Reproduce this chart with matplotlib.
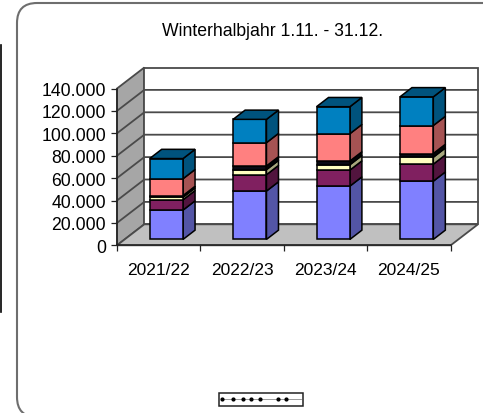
import matplotlib
matplotlib.use("Agg")
import matplotlib.pyplot as plt
from matplotlib.patches import Polygon, FancyBboxPatch, Rectangle
from matplotlib.lines import Line2D

plt.rcParams['font.family'] = ['Liberation Sans', 'DejaVu Sans']

title = "Winterhalbjahr 1.11. - 31.12."
categories = ["2021/22", "2022/23", "2023/24", "2024/25"]
series_a = [26200, 43200, 47600, 52000]
series_b = [9200, 14600, 14300, 15200]
series_c = [2300, 4500, 4800, 6200]
series_d = [1500, 3300, 3300, 3300]
series_e = [15000, 20800, 24400, 25000]
series_f = [18000, 20800, 24100, 25600]
colors = ["#8080ff", "#802060", "#ffffc0", "#0a0a14", "#ff8080", "#0080c0"]
side_colors = ["#5355a6", "#52143e", "#a8a87e", "#050508", "#a65353", "#00537d"]
y_ticks = [0, 20000, 40000, 60000, 80000, 100000, 120000, 140000]
y_labels = ["0", "20.000", "40.000", "60.000", "80.000", "100.000", "120.000", "140.000"]

W, H = 483, 414
fig = plt.figure(figsize=(W / 100, H / 100), dpi=100)
fig.patch.set_facecolor("white")

# pixel overlay for the frame and legend
bg = fig.add_axes([0, 0, 1, 1], zorder=0)
bg.set_xlim(0, W)
bg.set_ylim(H, 0)
bg.axis("off")
bg.add_patch(FancyBboxPatch((17, 4), 560, 414, boxstyle="round,pad=0,rounding_size=20",
                            fc="white", ec="#6e6e6e", lw=1.5))
bg.add_line(Line2D([0.5, 0.5], [46, 313], color="black", lw=1.2))

# main axes: the front plane of the oblique 3D box
L, R, T, B = 117.0, 450.7, 89.5, 246.3
ax = fig.add_axes([L / W, 1 - B / H, (R - L) / W, (B - T) / H], zorder=1)
ax.patch.set_alpha(0)
ax.set_xlim(0, 4)
ax.set_ylim(0, 140000)
px_x = (R - L) / 4
px_y = (B - T) / 140000
DX = 27.3 / px_x
DY = 21.0 / px_y
GRID = "#4a4a4a"

def P(x, y, d):
    return (x + d * DX, y + d * DY)

def poly(points, fc, ec="black", lw=1.1, z=2):
    ax.add_patch(Polygon(points, closed=True, fc=fc, ec=ec, lw=lw, zorder=z,
                         clip_on=False, joinstyle="miter"))

top = y_ticks[-1]
poly([P(0, 0, 0), P(0, top, 0), P(0, top, 1), P(0, 0, 1)], "#a6a6a6", GRID, 1.3, 1)
poly([P(0, 0, 1), P(0, top, 1), P(4, top, 1), P(4, 0, 1)], "white", GRID, 1.3, 1)
poly([P(0, 0, 0), P(4, 0, 0), P(4, 0, 1), P(0, 0, 1)], "#c0c0c0", GRID, 1.3, 1)
for t in y_ticks[1:-1]:
    xs, ys = zip(P(0, t, 0), P(0, t, 1), P(4, t, 1))
    ax.plot(xs, ys, color=GRID, lw=1.3, zorder=1.5, clip_on=False)

series = [series_a, series_b, series_c, series_d, series_e, series_f]
d0, d1 = 0.28, 0.72
half = 0.2
for i in range(len(categories)):
    cx = i + 0.5
    x0, x1 = cx - half, cx + half
    base = 0
    for s, c, sc in zip(series, colors, side_colors):
        v = base + s[i]
        z = 3 + i * 0.01
        poly([P(x1, base, d0), P(x1, v, d0), P(x1, v, d1), P(x1, base, d1)], sc, z=z)
        poly([P(x0, base, d0), P(x1, base, d0), P(x1, v, d0), P(x0, v, d0)], c, z=z)
        base = v
    poly([P(x0, base, d0), P(x1, base, d0), P(x1, base, d1), P(x0, base, d1)], side_colors[-1], z=z)

for s in ("top", "right"):
    ax.spines[s].set_visible(False)
for s in ("left", "bottom"):
    ax.spines[s].set_color("#222222")
    ax.spines[s].set_linewidth(1.1)
    ax.spines[s].set_zorder(2)
ax.set_yticks(y_ticks, y_labels)
ax.set_xticks(range(5), [""] * 5)
ax.set_xticks([i + 0.5 for i in range(4)], categories, minor=True)
ax.tick_params(axis="x", which="minor", length=0, labelsize=12.5, pad=12)
ax.tick_params(axis="x", which="major", length=4, width=0.9, color="#222222")
ax.tick_params(axis="y", length=4, width=0.9, color="#222222", labelsize=12.7, pad=4)

bg.text(272.5, 32, title, ha="center", va="center", fontsize=12.7, color="black")

# empty legend box with a dotted key
bg.add_patch(Rectangle((219, 394), 84, 13, fc="white", ec="#222222", lw=1.1))
bg.add_line(Line2D([221, 301], [400.5, 400.5], color="#8a8a8a", lw=0.6))
bg.add_line(Line2D([222, 232.5, 242.5, 250.5, 259.5, 277.5, 285.5], [400.5] * 7, ls="",
                   marker="o", ms=2, color="black"))

fig.savefig("out.png", dpi=100)
